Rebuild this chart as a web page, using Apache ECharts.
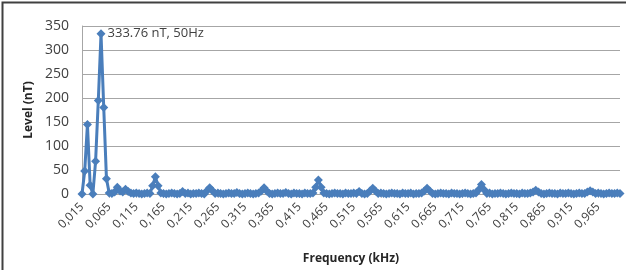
<!DOCTYPE html>
<html lang="en">
<head>
  <meta charset="UTF-8">
  <script type="text/javascript" src="https://cdn.jsdelivr.net/npm/echarts@6/dist/echarts.min.js"></script>
  <title>Level vs frequency</title>
  <style type="text/css">
    * {
      margin: 0;
      padding: 0;
    }

    html, body {
      width: 100%;
      height: 100%;
      background: #fff;
    }

    #chartbox {
      width: 631px;
      height: 270px;
    }
  </style>
</head>

<body>
<div id="chartbox"></div>
</body>
<script type="text/javascript">
  // frequency axis: 0.015 kHz .. 1.000 kHz, one sample every 5 Hz
  const freqStart = 0.015
  const freqStep = 0.005
  const yTicks = [0, 50, 100, 150, 200, 250, 300, 350]

  // level (nT), 10 samples per row
  const levels = [
    0, 48, 145, 18, 0, 68, 195, 333.76, 180, 32,
    2, 1, 4, 14, 6, 4, 10, 5, 2, 1,
    2, 1, 0, 1, 2, 1, 17, 36, 17, 2,
    1, 0, 1, 2, 1, 0, 1, 5, 1, 2,
    0, 1, 1, 2, 1, 0, 7, 13, 7, 1,
    2, 1, 0, 1, 2, 1, 1, 3, 1, 0,
    1, 2, 1, 0, 1, 2, 6, 13, 6, 1,
    0, 1, 2, 1, 1, 3, 1, 0, 2, 1,
    1, 0, 2, 1, 1, 2, 14, 29, 14, 2,
    1, 0, 1, 2, 1, 1, 0, 2, 1, 1,
    2, 1, 5, 1, 0, 1, 6, 12, 6, 1,
    2, 1, 0, 1, 2, 1, 1, 0, 2, 1,
    1, 2, 0, 1, 1, 2, 6, 12, 6, 1,
    0, 1, 2, 1, 1, 0, 2, 1, 1, 0,
    1, 2, 1, 0, 1, 2, 9, 20, 9, 1,
    2, 0, 1, 1, 2, 1, 0, 1, 2, 1,
    1, 0, 2, 1, 1, 2, 4, 8, 4, 1,
    0, 1, 2, 1, 1, 0, 2, 1, 1, 2,
    1, 0, 1, 2, 1, 1, 4, 7, 4, 1,
    2, 1, 0, 1, 2, 1, 1, 2, 1
  ]
  const peakIndex = 7
  const peakText = '333.76 nT, 50Hz'

  let categories = []
  for (let i = 0; i < levels.length; i++) {
    categories.push((freqStart + i * freqStep).toFixed(3).replace('.', ','))
  }

  let seriesData = levels.map(function (v, i) {
    if (i === peakIndex) {
      return {
        value: v,
        label: {
          show: true,
          position: 'right',
          distance: 2,
          formatter: peakText,
          color: '#404040',
          fontSize: 13,
          fontFamily: 'Open Sans'
        }
      }
    }
    return v
  })

  let myChart = echarts.init(document.getElementById('chartbox'), null, {renderer: 'canvas'})
  let option = {
    backgroundColor: '#fff',
    animation: false,
    grid: {
      left: 82,
      right: 11,
      top: 26,
      bottom: 75
    },
    xAxis: {
      type: 'category',
      data: categories,
      boundaryGap: false,
      name: 'Frequency (kHz)',
      nameLocation: 'middle',
      nameGap: 59,
      nameTextStyle: {
        color: '#262626',
        fontWeight: 'bold',
        fontSize: 12,
        fontFamily: 'Open Sans'
      },
      axisLine: {
        lineStyle: {color: '#a6a6a6'}
      },
      axisTick: {
        show: true,
        interval: 9,
        length: 4,
        lineStyle: {color: '#bfbfbf'}
      },
      axisLabel: {
        interval: 9,
        rotate: 45,
        margin: 11,
        color: '#404040',
        fontSize: 12,
        fontFamily: 'Open Sans'
      }
    },
    yAxis: {
      type: 'value',
      min: yTicks[0],
      max: yTicks[yTicks.length - 1],
      interval: yTicks[1] - yTicks[0],
      name: 'Level (nT)',
      nameLocation: 'middle',
      nameGap: 45,
      nameTextStyle: {
        color: '#262626',
        fontWeight: 'bold',
        fontSize: 12,
        fontFamily: 'Open Sans'
      },
      axisLine: {
        show: true,
        lineStyle: {color: '#a6a6a6'}
      },
      axisTick: {show: false},
      splitLine: {
        lineStyle: {color: '#a6a6a6', width: 1}
      },
      axisLabel: {
        margin: 13,
        color: '#404040',
        fontSize: 14,
        fontFamily: 'Open Sans'
      }
    },
    graphic: [
      {
        type: 'polyline',
        shape: {points: [[2.5, 270], [2.5, 2.5], [626, 2.5]]},
        style: {stroke: '#404040', lineWidth: 2, fill: null}
      }
    ],
    series: [
      {
        type: 'line',
        data: seriesData,
        symbol: 'diamond',
        symbolSize: 9,
        showAllSymbol: true,
        lineStyle: {color: '#4a7ebb', width: 3},
        itemStyle: {color: '#4a7ebb'}
      }
    ]
  }
  myChart.setOption(option)
</script>
</html>
